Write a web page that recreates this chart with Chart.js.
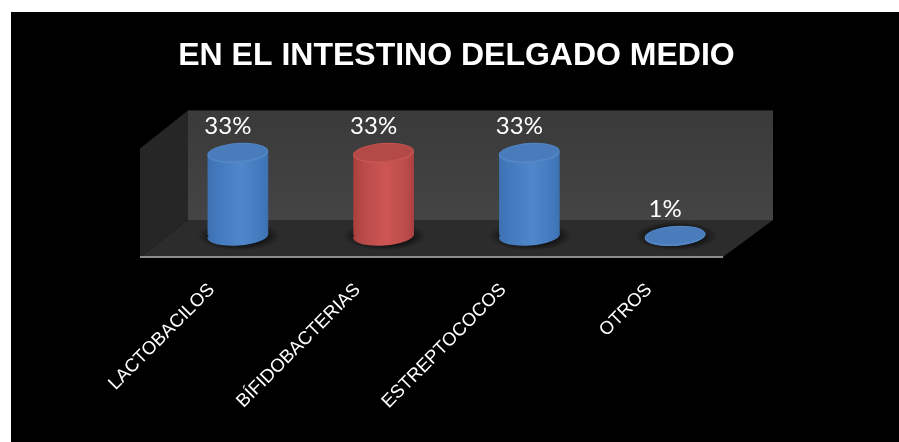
<!DOCTYPE html>
<html>
<head>
<meta charset="utf-8">
<script src="https://cdn.jsdelivr.net/npm/chart.js@4/dist/chart.umd.min.js"></script>
<style>
  html, body { margin: 0; background: #fff; overflow: hidden; }
  #box { position: absolute; left: 11px; top: 12px; width: 888px; height: 430px; background: #000; }
</style>
</head>
<body>
<div id="box"><canvas id="grafico" width="894" height="430"></canvas></div>
<script>
const titulo = "EN EL INTESTINO DELGADO MEDIO";
const categorias = ["LACTOBACILOS", "BÍFIDOBACTERIAS", "ESTREPTOCOCOS", "OTROS"];
const valores = [33, 33, 33, 1];
const azul = ["#3d70b0", "#5087cb", "#4279bd", "#4a7cbc", "#5487c6"];
const rojo = ["#a8403e", "#cd5654", "#b84a48", "#b34a48", "#c65451"];
const colores = [azul, rojo, azul, azul];

const RX = 30.5, RY = 9.5, GIRO = -4 * Math.PI / 180;

function gradiente(ctx, x, pal) {
    const g = ctx.createLinearGradient(x - RX, 0, x + RX, 0);
    g.addColorStop(0, pal[0]);
    g.addColorStop(0.15, pal[2]);
    g.addColorStop(0.55, pal[1]);
    g.addColorStop(0.9, pal[2]);
    g.addColorStop(1, pal[0]);
    return g;
}

function elipse(ctx, x, y, rx, ry, fill) {
    ctx.beginPath();
    ctx.ellipse(x, y, rx, ry, GIRO, 0, Math.PI * 2);
    ctx.fillStyle = fill;
    ctx.fill();
}

// paredes y piso del recuadro 3D, detras de las barras
const caja = {
    id: "caja",
    beforeDatasetsDraw(chart) {
        const { ctx, chartArea: a } = chart;
        const fondoX = a.left + 23, fondoDer = a.right + 25;
        const arriba = a.top - 24, piso = a.bottom - 18, frente = a.bottom + 19;
        const izq = a.left - 25, der = a.right - 25;

        ctx.save();
        // pared izquierda
        ctx.fillStyle = "#262626";
        ctx.beginPath();
        ctx.moveTo(izq, arriba + 38);
        ctx.lineTo(fondoX, arriba);
        ctx.lineTo(fondoX, piso);
        ctx.lineTo(izq, frente);
        ctx.closePath();
        ctx.fill();
        // pared del fondo
        const g = ctx.createLinearGradient(0, arriba, 0, piso);
        g.addColorStop(0, "#3a3a3a");
        g.addColorStop(1, "#444444");
        ctx.fillStyle = g;
        ctx.fillRect(fondoX, arriba, fondoDer - fondoX, piso - arriba);
        // piso
        ctx.fillStyle = "#2c2c2c";
        ctx.beginPath();
        ctx.moveTo(fondoX, piso);
        ctx.lineTo(fondoDer, piso);
        ctx.lineTo(der, frente);
        ctx.lineTo(izq, frente);
        ctx.closePath();
        ctx.fill();
        // linea del eje
        ctx.strokeStyle = "#8c8c8c";
        ctx.lineWidth = 2;
        ctx.beginPath();
        ctx.moveTo(izq, frente);
        ctx.lineTo(der, frente);
        ctx.stroke();

        // sombras y base de cada cilindro
        chart.getDatasetMeta(0).data.forEach((bar, i) => {
            const x = bar.x, y = bar.base - 2;
            const s = ctx.createRadialGradient(0, 0, 0, 0, 0, 1);
            s.addColorStop(0.55, "rgba(0,0,0,0.7)");
            s.addColorStop(1, "rgba(0,0,0,0)");
            ctx.save();
            ctx.translate(x + 1, y);
            ctx.scale(RX + 11, RY + 5);
            ctx.fillStyle = s;
            ctx.beginPath();
            ctx.arc(0, 0, 1, 0, Math.PI * 2);
            ctx.fill();
            ctx.restore();
            elipse(ctx, x, y, RX, RY, gradiente(ctx, x, colores[i]));
        });
        ctx.restore();
    },
    // el rectangulo de la barra termina donde empieza la base eliptica
    beforeDatasetDraw(chart) {
        const { ctx, chartArea: a } = chart;
        ctx.save();
        ctx.beginPath();
        ctx.rect(a.left, 0, a.right - a.left, a.bottom - 3);
        ctx.clip();
    },
    afterDatasetDraw(chart) {
        chart.ctx.restore();
    },
    afterDatasetsDraw(chart) {
        const ctx = chart.ctx;
        ctx.save();
        chart.getDatasetMeta(0).data.forEach((bar, i) => {
            const pal = colores[i];
            elipse(ctx, bar.x, bar.y + 0.5, RX, RY + 0.5, pal[4]);
            elipse(ctx, bar.x, bar.y, RX - 1, RY - 1, pal[3]);
            ctx.fillStyle = "#fff";
            ctx.font = "24px Lato";
            ctx.textAlign = "center";
            ctx.textBaseline = "bottom";
            ctx.fillText(valores[i] + "%", bar.x - 10, bar.y - 14);
        });
        ctx.restore();
    }
};

new Chart(document.getElementById("grafico"), {
    type: "bar",
    data: {
        labels: categorias,
        datasets: [{
            data: valores,
            barThickness: 60,
            backgroundColor: c => {
                const x = c.chart.scales.x.getPixelForValue(c.dataIndex);
                return Number.isFinite(x) ? gradiente(c.chart.ctx, x, colores[c.dataIndex]) : colores[c.dataIndex][1];
            }
        }]
    },
    options: {
        responsive: false,
        animation: false,
        layout: { padding: { left: 154, right: 157, top: 0, bottom: 0 } },
        plugins: {
            legend: { display: false },
            tooltip: { enabled: false },
            title: {
                display: true,
                text: titulo,
                color: "#fff",
                font: { family: "Liberation Sans", size: 32, weight: "bold" },
                padding: { top: 25, bottom: 59 }
            }
        },
        scales: {
            x: {
                grid: { display: false },
                border: { display: false },
                afterFit(s) { s.height = 204; },
                ticks: {
                    color: "#fff",
                    font: { family: "Liberation Sans", size: 18.5 },
                    minRotation: 45,
                    maxRotation: 45,
                    padding: 33,
                    labelOffset: -26,
                    autoSkip: false
                }
            },
            y: { display: false, min: 0, max: 40 }
        }
    },
    plugins: [caja]
});
</script>
</body>
</html>
